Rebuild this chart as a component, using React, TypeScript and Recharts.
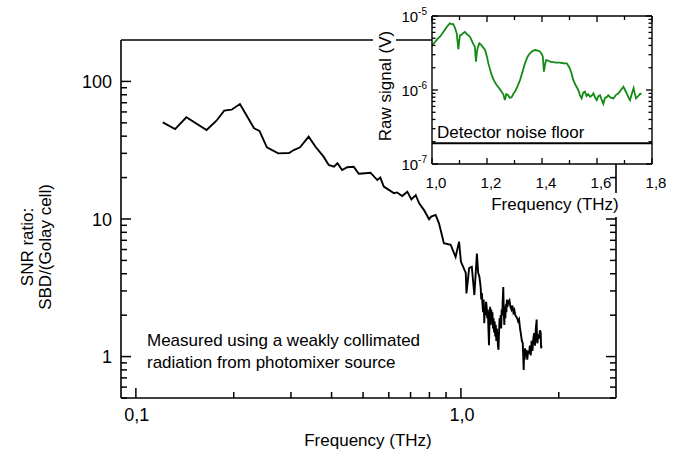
import React from 'react';
import { LineChart, Line, XAxis, YAxis, ReferenceLine } from 'recharts';

const FONT = '"Liberation Sans", Arial, Helvetica, sans-serif';
const TICK_COLOR = '#000';

// ---- Main chart: SNR ratio vs frequency ----
const snrFreq = [
  0.121, 0.132, 0.143, 0.165, 0.177, 0.187, 0.197, 0.209, 0.231, 0.24,
  0.253, 0.274, 0.296, 0.306, 0.32, 0.34, 0.357, 0.378, 0.392, 0.407,
  0.417, 0.431, 0.447, 0.468, 0.485, 0.508, 0.527, 0.553, 0.565, 0.579,
  0.607, 0.622, 0.636, 0.66, 0.684, 0.704, 0.726, 0.744, 0.77, 0.798,
  0.81, 0.836, 0.856, 0.877, 0.886, 0.93, 0.963, 0.987, 1.0, 1.035,
  1.04, 1.06, 1.08, 1.1, 1.12, 1.13, 1.14, 1.15, 1.155, 1.16,
  1.165, 1.17, 1.175, 1.18, 1.185, 1.19, 1.195, 1.2, 1.205, 1.21,
  1.215, 1.22, 1.225, 1.23, 1.235, 1.24, 1.245, 1.25, 1.255, 1.26,
  1.265, 1.27, 1.275, 1.28, 1.285, 1.29, 1.295, 1.3, 1.305, 1.31,
  1.315, 1.32, 1.325, 1.33, 1.335, 1.34, 1.345, 1.35, 1.355, 1.36,
  1.365, 1.37, 1.375, 1.38, 1.385, 1.39, 1.4, 1.41, 1.42, 1.43,
  1.44, 1.45, 1.46, 1.47, 1.48, 1.49, 1.5, 1.51, 1.52, 1.53,
  1.54, 1.55, 1.555, 1.56, 1.565, 1.57, 1.575, 1.58, 1.59, 1.6,
  1.61, 1.62, 1.63, 1.64, 1.65, 1.66, 1.67, 1.68, 1.69, 1.7,
  1.71, 1.715, 1.72, 1.73, 1.74, 1.75, 1.76, 1.765, 1.77,
];
const snrRatio = [
  50.4, 45, 54.9, 44.3, 51.8, 61.3, 62.3, 68.5, 45.6, 43.7,
  33.2, 30.0, 30.2, 31.7, 33.2, 39.7, 33.5, 28.4, 24.7, 24.0,
  25.4, 22.7, 23.8, 24.0, 21.3, 21.5, 21.7, 19.2, 20.0, 17.2,
  16.0, 15.4, 15.6, 14.7, 15.8, 13.9, 14.9, 13.0, 11.6, 9.96,
  10.4, 10.7, 9.3, 7.4, 6.67, 6.5, 5.3, 6.85, 4.9, 4.06,
  2.88, 4.4, 4.5, 2.8, 5.6, 4.06, 3.8, 3.2, 2.6, 2.9,
  2.4, 2.1, 2.6, 1.75, 2.3, 2.0, 2.5, 2.3, 1.9, 2.2,
  1.6, 1.21, 1.9, 2.3, 1.7, 2.2, 1.9, 2.1, 1.6, 1.9,
  1.5, 1.8, 1.4, 1.7, 1.3, 1.6, 1.4, 1.2, 1.12, 1.5,
  1.9, 1.7, 2.0, 1.6, 2.2, 2.0, 2.6, 3.2, 2.1, 1.7,
  2.3, 1.9, 2.4, 2.1, 2.6, 2.3, 2.5, 2.57, 2.3, 2.2,
  2.35, 2.1, 2.18, 2.0, 1.95, 1.9, 1.8, 1.86, 1.6, 1.45,
  1.3, 1.25, 1.0, 0.8, 1.05, 0.95, 1.15, 1.0, 1.12, 0.95,
  1.1, 1.05, 1.2, 1.02, 1.3, 1.1, 1.35, 1.48, 1.2, 1.6,
  1.86, 1.3, 1.25, 1.45, 1.35, 1.55, 1.5, 1.15, 1.2,
];
const mainXTicks = [0.1, 0.2, 0.3, 0.4, 0.5, 0.6, 0.7, 0.8, 0.9, 1, 2];
const mainYTicks = [
  0.5, 0.6, 0.7, 0.8, 0.9, 1, 2, 3, 4, 5, 6, 7, 8, 9, 10,
  20, 30, 40, 50, 60, 70, 80, 90, 100,
];
const mainXDomain = [0.09, 3];
const mainYDomain = [0.5, 200];

// ---- Inset: raw signal vs frequency ----
const rawFreq = [
  1.0, 1.01, 1.02, 1.029, 1.04, 1.05, 1.06, 1.065, 1.072, 1.077,
  1.083, 1.09, 1.093, 1.096, 1.099, 1.102, 1.108, 1.114, 1.12, 1.126,
  1.132, 1.138, 1.145, 1.15, 1.156, 1.158, 1.16, 1.163, 1.166, 1.172,
  1.178, 1.185, 1.193, 1.2, 1.205, 1.211, 1.217, 1.225, 1.235, 1.245,
  1.253, 1.26, 1.265, 1.27, 1.277, 1.283, 1.29, 1.296, 1.302, 1.31,
  1.32, 1.33, 1.338, 1.347, 1.356, 1.365, 1.375, 1.385, 1.393, 1.4,
  1.403, 1.407, 1.411, 1.415, 1.422, 1.429, 1.44, 1.452, 1.465, 1.478,
  1.49, 1.5, 1.507, 1.514, 1.523, 1.532, 1.538, 1.544, 1.55, 1.556,
  1.562, 1.568, 1.575, 1.581, 1.587, 1.593, 1.599, 1.605, 1.611, 1.617,
  1.623, 1.629, 1.635, 1.641, 1.65, 1.66, 1.669, 1.678, 1.687, 1.696,
  1.702, 1.708, 1.714, 1.72, 1.727, 1.733, 1.738, 1.742, 1.75, 1.756,
  1.762,
];
const rawSignal = [
  4.06e-6, 4.4e-6, 4.9e-6, 5.25e-6, 6.0e-6, 6.8e-6, 7.6e-6, 7.96e-6, 7.7e-6, 7.8e-6,
  7.0e-6, 5.8e-6, 4.5e-6, 3.55e-6, 4.6e-6, 5.5e-6, 5.6e-6, 5.9e-6, 6.1e-6, 5.7e-6,
  5.5e-6, 5.25e-6, 4.6e-6, 4.2e-6, 3.85e-6, 3.0e-6, 2.41e-6, 3.2e-6, 3.67e-6, 4.27e-6,
  4.1e-6, 3.8e-6, 3.47e-6, 2.8e-6, 2.29e-6, 1.9e-6, 1.6e-6, 1.35e-6, 1.17e-6, 1.05e-6,
  9.5e-7, 8.6e-7, 7.3e-7, 8.8e-7, 8.5e-7, 7.8e-7, 8.0e-7, 8.9e-7, 9.5e-7, 1.1e-6,
  1.36e-6, 1.8e-6, 2.29e-6, 2.8e-6, 3.13e-6, 3.35e-6, 3.47e-6, 3.4e-6, 3.3e-6, 3.0e-6,
  2.82e-6, 1.77e-6, 2.2e-6, 2.54e-6, 2.5e-6, 2.41e-6, 2.38e-6, 2.35e-6, 2.34e-6, 2.3e-6,
  2.29e-6, 2.0e-6, 1.7e-6, 1.36e-6, 1.15e-6, 1.0e-6, 8.5e-7, 7.7e-7, 9.2e-7, 9.5e-7,
  8.3e-7, 8.8e-7, 8.1e-7, 8.4e-7, 9.0e-7, 7.9e-7, 7.3e-7, 8.2e-7, 8.5e-7, 7.4e-7,
  6.5e-7, 7.8e-7, 8.0e-7, 8.5e-7, 7.9e-7, 7.7e-7, 8.6e-7, 9.0e-7, 1.0e-6, 1.11e-6,
  1.0e-6, 9.0e-7, 8.0e-7, 7.3e-7, 9.0e-7, 1.06e-6, 8.8e-7, 7.7e-7, 8.3e-7, 8.8e-7,
  9.0e-7,
];
const insetXTicks = [1.0, 1.1, 1.2, 1.3, 1.4, 1.5, 1.6, 1.7, 1.8];
const insetYTicks = [
  1e-7, 2e-7, 3e-7, 4e-7, 5e-7, 6e-7, 7e-7, 8e-7, 9e-7,
  1e-6, 2e-6, 3e-6, 4e-6, 5e-6, 6e-6, 7e-6, 8e-6, 9e-6, 1e-5,
];
const insetXDomain = [1.0, 1.8];
const insetYDomain = [1e-7, 1e-5];
const noiseFloor = 1.9e-7;

const mainData = snrFreq.map((f, i) => ({ f, v: snrRatio[i] }));
const insetData = rawFreq.map((f, i) => ({ f, v: rawSignal[i] }));

const isDecade = (v: number) => Math.abs(Math.log10(v) - Math.round(Math.log10(v))) < 1e-6;
const isEvenTenth = (v: number) => Math.round(v * 10) % 2 === 0;
const comma = (v: number) => v.toFixed(1).replace('.', ',');

type Side = 'left' | 'right' | 'top' | 'bottom';
function tickRenderer(
  side: Side,
  isMajor: (v: number) => boolean,
  majorLen: number,
  minorLen: number,
  sw: number,
  label?: (v: number, x: number, y: number) => React.ReactNode,
) {
  return (props: any) => {
    const px = Number(props.x);
    const py = Number(props.y);
    const v = Number(props.payload.value);
    const m = isMajor(v);
    const len = m ? majorLen : minorLen;
    let dx = 0;
    let dy = 0;
    if (side === 'left') dx = len;
    if (side === 'right') dx = -len;
    if (side === 'bottom') dy = -len;
    if (side === 'top') dy = len;
    return (
      <g>
        <path d={`M${px},${py}L${px + dx},${py + dy}`} stroke={TICK_COLOR} strokeWidth={sw} fill="none" />
        {m && label ? label(v, px, py) : null}
      </g>
    );
  };
}

const mainAxisLine = { stroke: '#000', strokeWidth: 1.6 };
const insetAxisLine = { stroke: '#000', strokeWidth: 1.4 };

const mainLeftTick = tickRenderer('left', isDecade, 10, 6, 1.5, (v, x, y) => (
  <text x={x - 9} y={y + 6.5} textAnchor="end" fontSize={18} fontFamily={FONT} fill="#000" stroke="none">
    {String(Math.round(v))}
  </text>
));
const mainRightTick = tickRenderer('right', isDecade, 10, 6, 1.5);
const mainBottomTick = tickRenderer('bottom', isDecade, 10, 6, 1.5, (v, x, y) => (
  <text x={x + 1} y={y + 23} textAnchor="middle" fontSize={18} fontFamily={FONT} fill="#000" stroke="none">
    {comma(v)}
  </text>
));

const insetLeftTick = tickRenderer('left', isDecade, 6, 3.5, 1.3, (v, x, y) => (
  <text x={x - 5} y={y + 6} textAnchor="end" fontSize={15} fontFamily={FONT} fill="#000" stroke="none">
    <tspan>10</tspan>
    <tspan dy={-7} fontSize={10}>{String(Math.round(Math.log10(v)))}</tspan>
  </text>
));
const insetRightTick = tickRenderer('right', isDecade, 6, 3.5, 1.3);
const insetBottomTick = tickRenderer('bottom', isEvenTenth, 6, 4, 1.3, (v, x, y) => (
  <text x={x + 4} y={y + 24} textAnchor="middle" fontSize={15} fontFamily={FONT} fill="#000" stroke="none">
    {comma(v)}
  </text>
));
const insetTopTick = tickRenderer('top', isEvenTenth, 6, 4, 1.3);

export default function App() {
  return (
    <div style={{ position: 'absolute', left: 0, top: 0, width: 675, height: 460, background: '#fff', overflow: 'hidden' }}>
      <div style={{ position: 'absolute', left: 0, top: 0 }}>
        <LineChart width={675} height={460} data={mainData} margin={{ top: 39, right: 58, bottom: 61, left: 120 }}>
          <XAxis xAxisId="b" dataKey="f" type="number" scale="log" domain={mainXDomain} allowDataOverflow
            ticks={mainXTicks} interval={0} height={1} tickSize={0} tickMargin={0} tickLine={false}
            axisLine={mainAxisLine} tick={mainBottomTick} />
          <XAxis xAxisId="t" orientation="top" dataKey="f" type="number" scale="log" domain={mainXDomain}
            allowDataOverflow height={1} tick={false} tickLine={false} axisLine={mainAxisLine} />
          <YAxis yAxisId="l" type="number" scale="log" domain={mainYDomain} allowDataOverflow
            ticks={mainYTicks} interval={0} width={1} tickSize={0} tickMargin={0} tickLine={false}
            axisLine={mainAxisLine} tick={mainLeftTick} />
          <YAxis yAxisId="r" orientation="right" type="number" scale="log" domain={mainYDomain} allowDataOverflow
            ticks={mainYTicks} interval={0} width={1} tickSize={0} tickMargin={0} tickLine={false}
            axisLine={mainAxisLine} tick={mainRightTick} />
          <Line xAxisId="b" yAxisId="l" dataKey="v" type="linear" stroke="#000" strokeWidth={1.9}
            dot={false} isAnimationActive={false} />
        </LineChart>
      </div>

      {/* inset plot-area background */}
      <div style={{ position: 'absolute', left: 432, top: 16, width: 220, height: 148, background: '#fff' }} />

      <div style={{ position: 'absolute', left: 360, top: 0 }}>
        <LineChart width={315} height={230} data={insetData} margin={{ top: 15, right: 22, bottom: 65, left: 71 }}>
          <XAxis xAxisId="b" dataKey="f" type="number" domain={insetXDomain} allowDataOverflow
            ticks={insetXTicks} interval={0} height={1} tickSize={0} tickMargin={0} tickLine={false}
            axisLine={insetAxisLine} tick={insetBottomTick} />
          <XAxis xAxisId="t" orientation="top" dataKey="f" type="number" domain={insetXDomain} allowDataOverflow
            ticks={insetXTicks} interval={0} height={1} tickSize={0} tickMargin={0} tickLine={false}
            axisLine={insetAxisLine} tick={insetTopTick} />
          <YAxis yAxisId="l" type="number" scale="log" domain={insetYDomain} allowDataOverflow
            ticks={insetYTicks} interval={0} width={1} tickSize={0} tickMargin={0} tickLine={false}
            axisLine={insetAxisLine} tick={insetLeftTick} />
          <YAxis yAxisId="r" orientation="right" type="number" scale="log" domain={insetYDomain} allowDataOverflow
            ticks={insetYTicks} interval={0} width={1} tickSize={0} tickMargin={0} tickLine={false}
            axisLine={insetAxisLine} tick={insetRightTick} />
          <ReferenceLine xAxisId="b" yAxisId="l" y={noiseFloor} stroke="#000" strokeWidth={2}
            label={{ value: 'Detector noise floor', position: 'insideBottomLeft', offset: 5, fontSize: 17, fill: '#000', fontFamily: FONT }} />
          <Line xAxisId="b" yAxisId="l" dataKey="v" type="linear" stroke="#138a13" strokeWidth={1.8}
            dot={false} isAnimationActive={false} />
        </LineChart>
      </div>

      <svg width={675} height={460} style={{ position: 'absolute', left: 0, top: 0, pointerEvents: 'none' }}>
        <g fontFamily={FONT} fill="#000">
          <text transform="translate(33,247) rotate(-90)" textAnchor="middle" fontSize={17}>SNR ratio:</text>
          <text transform="translate(51,247) rotate(-90)" textAnchor="middle" fontSize={17}>SBD/(Golay cell)</text>
          <text x={368} y={446} textAnchor="middle" fontSize={17}>Frequency (THz)</text>
          <text x={147} y={346} fontSize={17}>Measured using a weakly collimated</text>
          <text x={147} y={368} fontSize={17}>radiation from photomixer source</text>
          <rect x={373} y={28} width={23} height={118} fill="#fff" />
          <text transform="translate(391,86) rotate(-90)" textAnchor="middle" fontSize={17}>Raw signal (V)</text>
          <rect x={487} y={193} width={136} height={24} fill="#fff" />
          <text x={555} y={210} textAnchor="middle" fontSize={17}>Frequency (THz)</text>
        </g>
      </svg>
    </div>
  );
}
